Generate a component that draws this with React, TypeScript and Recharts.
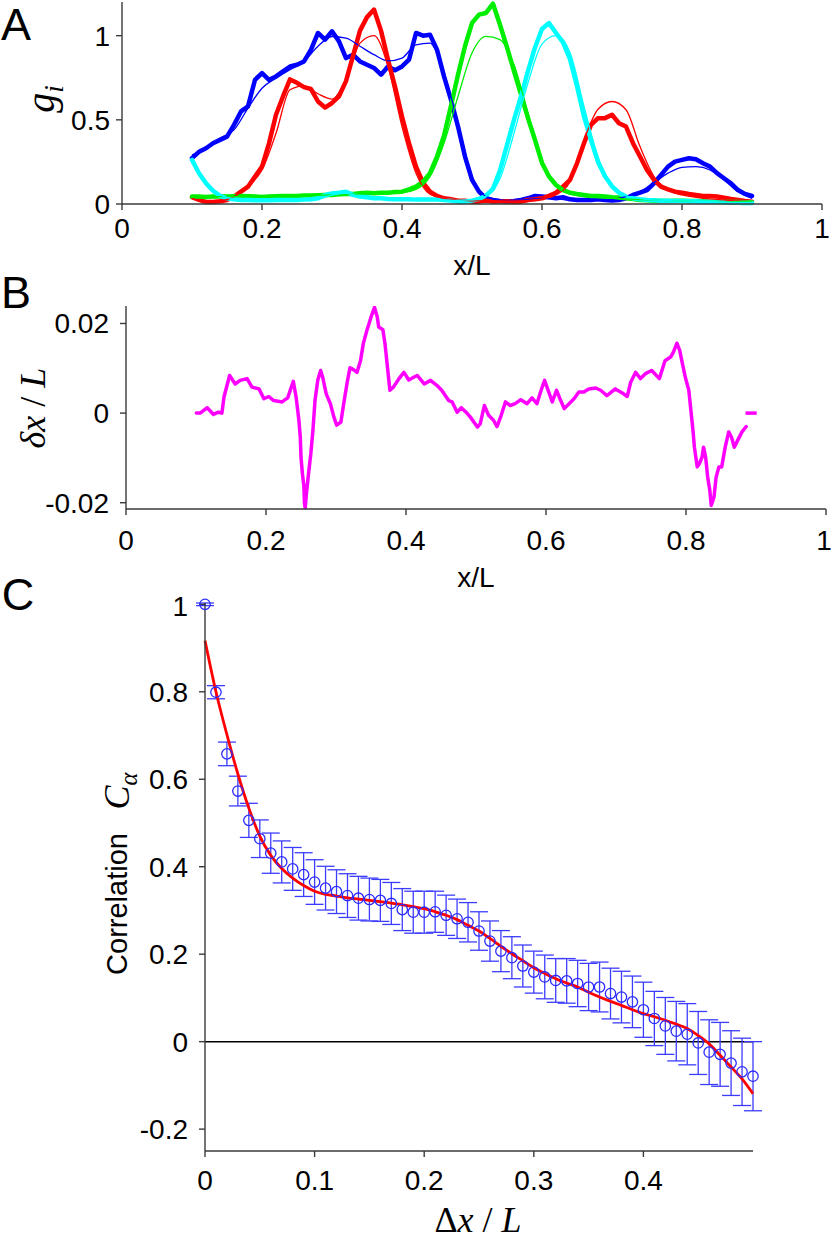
import React from 'react';
import { LineChart, Line, XAxis, YAxis, ComposedChart, Scatter, ErrorBar, ReferenceLine } from 'recharts';

// ---------- Panel A ----------
const thickX = [
  0.10, 0.11, 0.12, 0.13, 0.14, 0.15, 0.16, 0.17, 0.18, 0.19,
  0.20, 0.21, 0.22, 0.23, 0.24, 0.25, 0.26, 0.27, 0.28, 0.29,
  0.30, 0.31, 0.32, 0.33, 0.34, 0.35, 0.36, 0.37, 0.38, 0.39,
  0.40, 0.41, 0.42, 0.43, 0.44, 0.45, 0.46, 0.47, 0.48, 0.49,
  0.50, 0.51, 0.52, 0.53, 0.54, 0.55, 0.56, 0.57, 0.58, 0.59,
  0.60, 0.61, 0.62, 0.63, 0.64, 0.65, 0.66, 0.67, 0.68, 0.69,
  0.70, 0.71, 0.72, 0.73, 0.74, 0.75, 0.76, 0.77, 0.78, 0.79,
  0.80, 0.81, 0.82, 0.83, 0.84, 0.85, 0.86, 0.87, 0.88, 0.89,
  0.90,
];
const blueData = [
  0.272, 0.31, 0.331, 0.361, 0.381, 0.40, 0.47, 0.55, 0.58, 0.738,
  0.778, 0.738, 0.758, 0.788, 0.817, 0.827, 0.847, 0.917, 1.016, 0.976,
  1.026, 0.966, 0.867, 0.887, 0.847, 0.827, 0.808, 0.768, 0.817, 0.794,
  0.817, 0.857, 1.016, 1.0, 1.006, 0.917, 0.758, 0.619, 0.46, 0.282,
  0.143, 0.073, 0.034, 0.024, 0.018, 0.014, 0.018, 0.024, 0.034, 0.048,
  0.044, 0.04, 0.034, 0.04, 0.028, 0.024, 0.024, 0.024, 0.028, 0.024,
  0.02, 0.024, 0.034, 0.054, 0.067, 0.083, 0.123, 0.173, 0.222, 0.252,
  0.262, 0.272, 0.266, 0.242, 0.222, 0.183, 0.153, 0.123, 0.083, 0.06,
  0.048,
];
const redData = [
  0.04, 0.024, 0.012, 0.012, 0.016, 0.024, 0.044, 0.073, 0.103, 0.163,
  0.222, 0.36, 0.53, 0.639, 0.74, 0.72, 0.694, 0.683, 0.609, 0.573,
  0.60, 0.64, 0.73, 0.88, 1.03, 1.11, 1.155, 1.03, 0.857, 0.698,
  0.52, 0.361, 0.222, 0.127, 0.073, 0.048, 0.034, 0.028, 0.02, 0.02,
  0.014, 0.014, 0.02, 0.014, 0.016, 0.016, 0.012, 0.014, 0.024, 0.028,
  0.034, 0.048, 0.067, 0.103, 0.143, 0.242, 0.361, 0.47, 0.51, 0.51,
  0.53, 0.48, 0.46, 0.361, 0.282, 0.202, 0.143, 0.103, 0.087, 0.073,
  0.067, 0.06, 0.054, 0.048, 0.048, 0.044, 0.038, 0.03, 0.024, 0.018,
  0.014,
];
const greenData = [
  0.044, 0.044, 0.042, 0.044, 0.046, 0.044, 0.046, 0.048, 0.046, 0.044,
  0.042, 0.044, 0.046, 0.048, 0.048, 0.048, 0.05, 0.05, 0.052, 0.054,
  0.054, 0.058, 0.06, 0.06, 0.064, 0.067, 0.064, 0.067, 0.067, 0.071,
  0.073, 0.087, 0.103, 0.133, 0.183, 0.282, 0.405, 0.583, 0.768, 0.937,
  1.075, 1.125, 1.135, 1.19, 1.065, 0.93, 0.79, 0.65, 0.51, 0.38,
  0.244, 0.163, 0.113, 0.083, 0.067, 0.06, 0.054, 0.048, 0.048, 0.044,
  0.04, 0.038, 0.034, 0.03, 0.024, 0.022, 0.02, 0.018, 0.018, 0.02,
  0.02, 0.018, 0.018, 0.016, 0.014, 0.014, 0.014, 0.012, 0.012, 0.01,
  0.01,
];
const cyanData = [
  0.262, 0.183, 0.123, 0.079, 0.048, 0.034, 0.028, 0.024, 0.024, 0.022,
  0.022, 0.022, 0.024, 0.024, 0.024, 0.024, 0.026, 0.028, 0.034, 0.054,
  0.063, 0.067, 0.073, 0.054, 0.044, 0.04, 0.034, 0.034, 0.03, 0.028,
  0.028, 0.028, 0.026, 0.026, 0.026, 0.026, 0.024, 0.02, 0.014, 0.014,
  0.02, 0.03, 0.05, 0.09, 0.2, 0.35, 0.5, 0.64, 0.79, 0.93,
  1.04, 1.075, 1.016, 0.96, 0.86, 0.70, 0.52, 0.38, 0.25, 0.165,
  0.105, 0.067, 0.044, 0.034, 0.028, 0.024, 0.022, 0.02, 0.02, 0.018,
  0.018, 0.016, 0.016, 0.014, 0.014, 0.012, 0.01, 0.008, 0.008, 0.006,
  0.006,
];

const fitX = [
  0.10, 0.12, 0.14, 0.16, 0.18, 0.20, 0.22, 0.24, 0.26, 0.28,
  0.30, 0.32, 0.34, 0.36, 0.38, 0.40, 0.42, 0.44, 0.46, 0.48,
  0.50, 0.52, 0.54, 0.56, 0.58, 0.60, 0.62, 0.64, 0.66, 0.68,
  0.70, 0.72, 0.74, 0.76, 0.78, 0.80, 0.82, 0.84, 0.86, 0.88,
  0.90,
];
const blueFit = [
  0.292, 0.325, 0.39, 0.44, 0.57, 0.688, 0.748, 0.798, 0.847, 0.937,
  0.995, 0.986, 0.937, 0.887, 0.85, 0.867, 0.946, 0.956, 0.778, 0.48,
  0.163, 0.044, 0.024, 0.02, 0.028, 0.034, 0.03, 0.024, 0.024, 0.024,
  0.028, 0.044, 0.073, 0.127, 0.183, 0.218, 0.222, 0.202, 0.143, 0.073,
  0.034,
];
const redFit = [
  0.034, 0.014, 0.018, 0.044, 0.103, 0.202, 0.42, 0.679, 0.702, 0.655,
  0.623, 0.738, 0.956, 1.0, 0.817, 0.46, 0.183, 0.058, 0.034, 0.024,
  0.018, 0.018, 0.018, 0.018, 0.02, 0.03, 0.054, 0.133, 0.381, 0.563,
  0.609, 0.56, 0.341, 0.163, 0.083, 0.054, 0.04, 0.03, 0.024, 0.018,
  0.014,
];
const greenFit = [
  0.04, 0.042, 0.044, 0.044, 0.046, 0.046, 0.048, 0.05, 0.05, 0.052,
  0.054, 0.058, 0.06, 0.063, 0.065, 0.067, 0.087, 0.163, 0.361, 0.639,
  0.897, 0.996, 0.976, 0.827, 0.54, 0.252, 0.103, 0.06, 0.044, 0.038,
  0.034, 0.03, 0.026, 0.024, 0.02, 0.018, 0.016, 0.016, 0.014, 0.014,
  0.014,
];
const cyanFit = [
  0.25, 0.133, 0.054, 0.032, 0.028, 0.028, 0.028, 0.028, 0.028, 0.03,
  0.054, 0.063, 0.044, 0.034, 0.03, 0.028, 0.028, 0.026, 0.024, 0.022,
  0.024, 0.045, 0.15, 0.42, 0.72, 0.95, 1.0, 0.9, 0.58, 0.28,
  0.11, 0.048, 0.032, 0.024, 0.02, 0.018, 0.016, 0.014, 0.012, 0.01,
  0.01,
];
const ticksAX = [0, 0.2, 0.4, 0.6, 0.8, 1];
const ticksAY = [0, 0.5, 1];

// ---------- Panel B ----------
const bX = [
  0.1005, 0.106, 0.116, 0.125, 0.132, 0.137, 0.14, 0.148, 0.156, 0.163,
  0.173, 0.18, 0.19, 0.197, 0.204, 0.211, 0.223, 0.231, 0.239, 0.243,
  0.247, 0.249, 0.25, 0.252, 0.254, 0.255, 0.256, 0.258, 0.261, 0.264,
  0.267, 0.27, 0.274, 0.278, 0.281, 0.286, 0.292, 0.297, 0.301, 0.307,
  0.311, 0.316, 0.32, 0.325, 0.33, 0.335, 0.339, 0.344, 0.35, 0.355,
  0.359, 0.361, 0.367, 0.37, 0.373, 0.377, 0.382, 0.39, 0.397, 0.404,
  0.411, 0.416, 0.426, 0.435, 0.444, 0.451, 0.461, 0.466, 0.473, 0.479,
  0.487, 0.492, 0.502, 0.506, 0.512, 0.518, 0.525, 0.53, 0.536, 0.542,
  0.549, 0.556, 0.564, 0.573, 0.58, 0.587, 0.593, 0.598, 0.603, 0.609,
  0.615, 0.621, 0.626, 0.633, 0.64, 0.647, 0.654, 0.661, 0.671, 0.678,
  0.687, 0.699, 0.709, 0.716, 0.721, 0.728, 0.735, 0.742, 0.751, 0.762,
  0.77, 0.778, 0.782, 0.787, 0.791, 0.794, 0.799, 0.804, 0.807, 0.81,
  0.812, 0.816, 0.819, 0.823, 0.825, 0.828, 0.831, 0.834, 0.836, 0.84,
  0.843, 0.847, 0.851, 0.856, 0.861, 0.865, 0.869, 0.875, 0.88, 0.886,
];
const bY = [
  0, 0, 0.0012, -0.0003, 0.0002, 0, 0.0036, 0.0084, 0.0065, 0.0073,
  0.0077, 0.0058, 0.0054, 0.0032, 0.0037, 0.0028, 0.0025, 0.0034, 0.0071, 0.0036,
  -0.0016, -0.0054, -0.0098, -0.0135, -0.0161, -0.0202, -0.0212, -0.0176, -0.0132, -0.0091,
  -0.0039, 0.0028, 0.0074, 0.0095, 0.008, 0.0043, 0.0021, -0.0009, -0.0027, -0.002,
  0.0021, 0.0069, 0.0101, 0.0097, 0.0091, 0.0117, 0.0155, 0.0184, 0.0214, 0.0236,
  0.0214, 0.0192, 0.0186, 0.0155, 0.011, 0.0051, 0.0058, 0.0077, 0.0091, 0.0074,
  0.008, 0.0084, 0.0065, 0.0073, 0.0062, 0.0051, 0.0028, 0.0025, 0.0002, 0.0012,
  0, -0.0009, -0.0031, -0.0024, 0.0017, -0.0005, -0.0016, -0.003, -0.0005, 0.0025,
  0.0017, 0.0021, 0.003, 0.0021, 0.0034, 0.0021, 0.0051, 0.0073, 0.0051, 0.0025,
  0.0051, 0.0028, 0.001, 0.0021, 0.0032, 0.0047, 0.0047, 0.0054, 0.0056, 0.0051,
  0.0039, 0.0054, 0.0045, 0.0037, 0.0069, 0.0091, 0.0077, 0.0088, 0.0095, 0.0077,
  0.0117, 0.0125, 0.0136, 0.0156, 0.014, 0.0117, 0.008, 0.0051, 0.0006, -0.0039,
  -0.0076, -0.012, -0.0113, -0.0098, -0.0076, -0.0098, -0.0143, -0.0172, -0.0206, -0.0187,
  -0.0143, -0.012, -0.012, -0.0076, -0.0042, -0.0054, -0.0076, -0.0057, -0.0042, -0.003,
];
const bTailX = [0.885, 0.901];
const bTailY = [0, 0];
const ticksBY = [-0.02, 0, 0.02];

// ---------- Panel C ----------
const cX = [
  0, 0.01, 0.02, 0.03, 0.04, 0.05, 0.06, 0.07, 0.08, 0.09,
  0.10, 0.11, 0.12, 0.13, 0.14, 0.15, 0.16, 0.17, 0.18, 0.19,
  0.20, 0.21, 0.22, 0.23, 0.24, 0.25, 0.26, 0.27, 0.28, 0.29,
  0.30, 0.31, 0.32, 0.33, 0.34, 0.35, 0.36, 0.37, 0.38, 0.39,
  0.40, 0.41, 0.42, 0.43, 0.44, 0.45, 0.46, 0.47, 0.48, 0.49,
  0.50,
];
const cY = [
  1.0, 0.799, 0.658, 0.573, 0.506, 0.464, 0.431, 0.411, 0.395, 0.382,
  0.365, 0.351, 0.343, 0.334, 0.328, 0.325, 0.323, 0.316, 0.302, 0.296,
  0.296, 0.297, 0.289, 0.281, 0.273, 0.253, 0.23, 0.207, 0.192, 0.173,
  0.159, 0.148, 0.14, 0.139, 0.133, 0.125, 0.125, 0.11, 0.102, 0.091,
  0.073, 0.053, 0.036, 0.024, 0.017, -0.003, -0.024, -0.029, -0.049, -0.069,
  -0.079,
];
const cErr = [
  0.003, 0.015, 0.027, 0.034, 0.039, 0.043, 0.046, 0.048, 0.049, 0.05,
  0.051, 0.05, 0.05, 0.05, 0.05, 0.049, 0.048, 0.048, 0.048, 0.048,
  0.048, 0.047, 0.046, 0.045, 0.045, 0.044, 0.046, 0.047, 0.048, 0.048,
  0.048, 0.05, 0.05, 0.051, 0.053, 0.054, 0.057, 0.058, 0.059, 0.059,
  0.063, 0.062, 0.065, 0.068, 0.07, 0.072, 0.074, 0.073, 0.074, 0.077,
  0.079,
];
const cFit = [
  0.917, 0.8, 0.702, 0.612, 0.534, 0.47, 0.426, 0.396, 0.374, 0.357,
  0.344, 0.337, 0.333, 0.329, 0.326, 0.323, 0.32, 0.317, 0.313, 0.309,
  0.304, 0.297, 0.289, 0.279, 0.266, 0.253, 0.236, 0.218, 0.201, 0.185,
  0.169, 0.156, 0.144, 0.134, 0.125, 0.113, 0.102, 0.092, 0.083, 0.073,
  0.064, 0.057, 0.049, 0.04, 0.03, 0.014, -0.005, -0.031, -0.058, -0.085,
  -0.119,
];
const ticksCX = [0, 0.1, 0.2, 0.3, 0.4];
const ticksCY = [-0.2, 0, 0.2, 0.4, 0.6, 0.8, 1];

// ---------- helpers ----------
const SANS = '"Liberation Sans", Arial, Helvetica, sans-serif';
const SERIF = '"Liberation Serif", "Times New Roman", serif';
const AXIS = '#3a3a3a';

const zip = (xs: number[], ys: number[]) => xs.map((x, i) => ({ x, y: ys[i] }));

const tickStyle = { fill: '#000', fontSize: 28, fontFamily: SANS };
const axisLineStyle = { stroke: AXIS, strokeWidth: 1.4 };

function Lbl(props: any) {
  const { x, y, size, rot, family, italic, children } = props;
  return (
    <div
      style={{
        position: 'absolute',
        left: x,
        top: y,
        transform: `translate(-50%, -50%)${rot ? ' rotate(-90deg)' : ''}`,
        fontSize: size,
        fontFamily: family || SANS,
        fontStyle: italic ? 'italic' : 'normal',
        lineHeight: 1,
        whiteSpace: 'nowrap',
        color: '#000',
      }}
    >
      {children}
    </div>
  );
}

const Sub = ({ children }: any) => (
  <span style={{ fontSize: '0.68em', position: 'relative', top: '0.32em' }}>{children}</span>
);

const CircleShape = (p: any) => (
  <circle cx={p.cx} cy={p.cy} r={5.2} fill="none" stroke="#2a2aff" strokeWidth={1.3} />
);

const A_SERIES = [
  { color: '#0000ff', data: blueData, fit: blueFit },
  { color: '#ff0000', data: redData, fit: redFit },
  { color: '#00ee00', data: greenData, fit: greenFit },
  { color: '#00ffff', data: cyanData, fit: cyanFit },
];

export default function App() {
  return (
    <div style={{ position: 'absolute', left: 0, top: 0, width: 831, height: 1240, background: '#fff', overflow: 'hidden' }}>
      {/* Panel A */}
      <div style={{ position: 'absolute', left: 0, top: 0 }}>
        <LineChart width={831} height={250} margin={{ top: 2, right: 9, left: 62, bottom: 6 }}>
          <XAxis
            type="number"
            dataKey="x"
            domain={[0, 1]}
            ticks={ticksAX}
            height={40}
            tick={tickStyle}
            axisLine={axisLineStyle}
            tickLine={axisLineStyle}
            tickSize={6}
            tickMargin={8}
          />
          <YAxis
            type="number"
            dataKey="y"
            domain={[0, 1.2]}
            ticks={ticksAY}
            width={60}
            tick={tickStyle}
            axisLine={axisLineStyle}
            tickLine={axisLineStyle}
            tickSize={6}
            tickMargin={6}
          />
          {A_SERIES.map((s, i) => (
            <Line
              key={'t' + i}
              data={zip(thickX, s.data)}
              dataKey="y"
              type="linear"
              stroke={s.color}
              strokeWidth={4.5}
              strokeLinejoin="round"
              strokeLinecap="round"
              dot={false}
              activeDot={false}
              isAnimationActive={false}
            />
          ))}
          {A_SERIES.map((s, i) => (
            <Line
              key={'f' + i}
              data={zip(fitX, s.fit)}
              dataKey="y"
              type="monotone"
              stroke={s.color}
              strokeWidth={1.3}
              dot={false}
              activeDot={false}
              isAnimationActive={false}
            />
          ))}
        </LineChart>
      </div>

      {/* Panel B */}
      <div style={{ position: 'absolute', left: 0, top: 290 }}>
        <LineChart width={831} height={270} margin={{ top: 16, right: 5, left: 66, bottom: 0 }}>
          <XAxis
            type="number"
            dataKey="x"
            domain={[0, 1]}
            ticks={ticksAX}
            height={51}
            tick={tickStyle}
            axisLine={axisLineStyle}
            tickLine={axisLineStyle}
            tickSize={6}
            tickMargin={15}
          />
          <YAxis
            type="number"
            dataKey="y"
            domain={[-0.0214, 0.0239]}
            allowDataOverflow
            ticks={ticksBY}
            width={60}
            tick={tickStyle}
            axisLine={axisLineStyle}
            tickLine={axisLineStyle}
            tickSize={6}
            tickMargin={11}
          />
          <Line
            data={zip(bX, bY)}
            dataKey="y"
            type="linear"
            stroke="#ff00ff"
            strokeWidth={3.5}
            strokeLinejoin="round"
            strokeLinecap="round"
            dot={false}
            activeDot={false}
            isAnimationActive={false}
          />
          <Line
            data={zip(bTailX, bTailY)}
            dataKey="y"
            type="linear"
            stroke="#ff00ff"
            strokeWidth={3.5}
            dot={false}
            activeDot={false}
            isAnimationActive={false}
          />
        </LineChart>
      </div>

      {/* Panel C */}
      <div style={{ position: 'absolute', left: 0, top: 590 }}>
        <ComposedChart width={831} height={650} margin={{ top: 13, right: 78, left: 145, bottom: 0 }}>
          <XAxis
            type="number"
            dataKey="x"
            domain={[0, 0.5]}
            ticks={ticksCX}
            height={89}
            tick={tickStyle}
            axisLine={axisLineStyle}
            tickLine={axisLineStyle}
            tickSize={6}
            tickMargin={13}
          />
          <YAxis
            type="number"
            dataKey="y"
            domain={[-0.25, 1]}
            ticks={ticksCY}
            width={60}
            tick={tickStyle}
            axisLine={axisLineStyle}
            tickLine={axisLineStyle}
            tickSize={6}
            tickMargin={11}
          />
          <ReferenceLine y={0} stroke="#000" strokeWidth={1.5} />
          <Scatter
            data={cX.map((x, i) => ({ x, y: cY[i], e: cErr[i] }))}
            dataKey="y"
            shape={CircleShape}
            isAnimationActive={false}
          >
            <ErrorBar dataKey="e" direction="y" width={9} stroke="#3c3cff" strokeWidth={1.3} isAnimationActive={false} />
          </Scatter>
          <Line
            data={zip(cX, cFit)}
            dataKey="y"
            type="monotone"
            stroke="#ff0000"
            strokeWidth={2.8}
            dot={false}
            activeDot={false}
            isAnimationActive={false}
          />
        </ComposedChart>
      </div>

      {/* Text labels */}
      <Lbl x={16} y={24} size={45}>A</Lbl>
      <Lbl x={16} y={292} size={45}>B</Lbl>
      <Lbl x={18} y={594} size={45}>C</Lbl>

      <Lbl x={472} y={266} size={28}>x/L</Lbl>
      <Lbl x={476} y={578} size={28}>x/L</Lbl>

      <Lbl x={41} y={99} size={40} rot family={SERIF} italic>
        g<Sub>i</Sub>
      </Lbl>
      <Lbl x={33} y={408} size={36} rot family={SERIF}>
        <i>δx</i> / <i>L</i>
      </Lbl>
      <Lbl x={117} y={904} size={29} rot>Correlation</Lbl>
      <Lbl x={117} y={791} size={36} rot family={SERIF} italic>
        C<Sub>α</Sub>
      </Lbl>
      <Lbl x={478} y={1220} size={36} family={SERIF}>
        Δ<i>x</i> / <i>L</i>
      </Lbl>
    </div>
  );
}
